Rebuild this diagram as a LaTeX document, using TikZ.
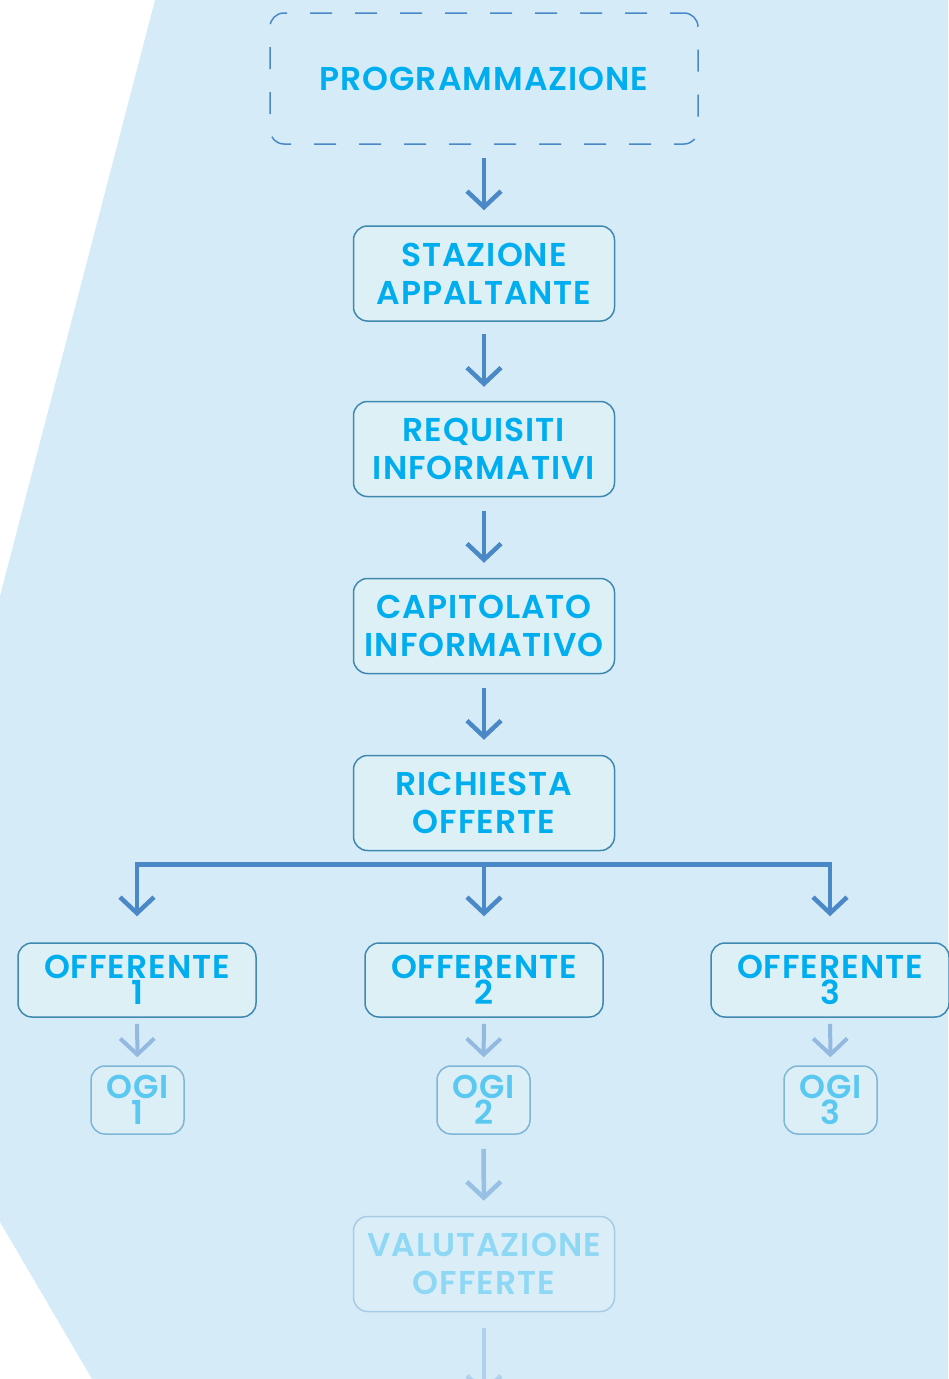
\documentclass[tikz,border=0pt]{standalone}
\usepackage{fontspec}
\setmainfont{Poppins}[UprightFont={* SemiBold}, LetterSpace=3]
\usetikzlibrary{arrows.meta,calc}
\definecolor{bgblue}{HTML}{D5ECF8}
\definecolor{boxfill}{HTML}{DDF0F6}
\definecolor{boxline}{HTML}{3F88B0}
\definecolor{txt}{HTML}{00AEEF}
\definecolor{arr}{HTML}{4A88C8}
\definecolor{arrB}{HTML}{94B9E0}
\definecolor{ogitxt}{HTML}{5AC8F0}
\definecolor{ogiline}{HTML}{7FB5D5}
\definecolor{ogifill}{HTML}{DCEFF7}
\definecolor{arrC}{HTML}{98C0E4}
\definecolor{valtxt}{HTML}{8ED8F5}
\definecolor{valline}{HTML}{A5CCE4}
\definecolor{valfill}{HTML}{DBEEF8}
\definecolor{arrD}{HTML}{B0D1EC}
\tikzset{
  mainbox/.style={draw=boxline, fill=boxfill, line width=1.5pt, rounded corners=14pt,
    minimum width=261pt, minimum height=95pt, align=center, text=txt, inner sep=0pt,
    font=\fontsize{33}{38}\selectfont},
  offbox/.style={mainbox, minimum width=238pt, minimum height=74pt, font=\fontsize{33}{26}\selectfont},
  ogibox/.style={draw=ogiline, fill=ogifill, line width=1.5pt, rounded corners=14pt,
    minimum width=93pt, minimum height=68pt, align=center, text=ogitxt, inner sep=0pt,
    font=\fontsize{33}{26}\selectfont},
  valbox/.style={mainbox, draw=valline, fill=valfill, text=valtxt},
  dashbox/.style={draw=arr, line width=1.5pt, rounded corners=14pt, dash pattern=on 22pt off 23pt, dash phase=8pt,
    minimum width=428pt, minimum height=131pt, text=txt, inner sep=0pt, font=\fontsize{33}{38}\selectfont},
  flow/.style={draw=arr, line width=4.5pt, -{Straight Barb[length=16pt,width=34pt]}},
  flowB/.style={flow, draw=arrB, line width=4pt},
  flowC/.style={flow, draw=arrC},
  flowD/.style={flow, draw=arrD},
}
\begin{document}
\begin{tikzpicture}[x=1pt,y=-1pt]
\useasboundingbox (0,0) rectangle (948,1379);
\fill[bgblue] (155,0) -- (948,0) -- (948,1379) -- (92,1379) -- (0,1222) -- (0,596) -- cycle;

\node[dashbox] (prog) at (484,78.5) {PROGRAMMAZIONE};
\node[mainbox] (staz) at (484,273.5) {STAZIONE\\APPALTANTE};
\node[mainbox] (req) at (484,449) {REQUISITI\\INFORMATIVI};
\node[mainbox] (cap) at (484,626) {CAPITOLATO\\INFORMATIVO};
\node[mainbox] (rich) at (484,803) {RICHIESTA\\OFFERTE};
\node[offbox] (o1) at (137,980) {OFFERENTE\\1};
\node[offbox] (o2) at (484,980) {OFFERENTE\\2};
\node[offbox] (o3) at (830,980) {OFFERENTE\\3};
\node[ogibox] (g1) at (137.5,1100) {OGI\\1};
\node[ogibox] (g2) at (483.5,1100) {OGI\\2};
\node[ogibox] (g3) at (830.5,1100) {OGI\\3};
\node[valbox] (val) at (484,1264) {VALUTAZIONE\\OFFERTE};
\coordinate (end) at (484,1395);

\draw[flow, shorten <=13pt, shorten >=15pt] (prog) -- (staz);
\draw[flow, shorten <=12pt, shorten >=14pt] (staz) -- (req);
\draw[flow, shorten <=14pt, shorten >=15pt] (req) -- (cap);
\draw[flow, shorten <=14pt, shorten >=15pt] (cap) -- (rich);

\coordinate (bM) at ([yshift=-13pt]rich.south);
\coordinate (bL) at (bM -| o1.north);
\coordinate (bR) at (bM -| o3.north);
\draw[flow, shorten >=26pt] (bM) -- (bL) -- (o1.north);
\draw[flow, shorten >=26pt] (bM) -- (bR) -- (o3.north);
\draw[flow, shorten >=26pt] (bM) -- (o2.north);

\draw[flowB, shorten <=6pt, shorten >=8pt] (o1) -- (g1);
\draw[flowB, shorten <=6pt, shorten >=8pt] (o2) -- (g2);
\draw[flowB, shorten <=6pt, shorten >=8pt] (o3) -- (g3);
\draw[flowC, shorten <=14pt, shorten >=15pt] (g2) -- (val);
\draw[flowD, shorten <=16pt] (val) -- (end);
\end{tikzpicture}
\end{document}
